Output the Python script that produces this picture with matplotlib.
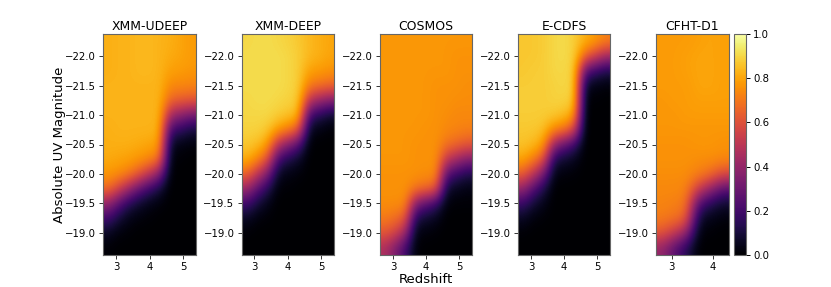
#!/usr/bin/env python3
"""
Completeness maps for five fields
"""

import numpy as np
import matplotlib
matplotlib.use("Agg")
import matplotlib.pyplot as plt

# rows run from bright to faint, columns are redshift bins (percent)
MAGS = [-22.25, -22.0, -21.75, -21.5, -21.25, -21.0, -20.75, -20.5, -20.25, -20.0, -19.75, -19.5, -19.25, -19.0, -18.75]
FIELDS = ["XMM-UDEEP", "XMM-DEEP", "COSMOS", "E-CDFS", "CFHT-D1"]

xmm_udeep = [
    [82, 83, 83, 84, 84, 83, 82, 80, 78],
    [82, 83, 83, 84, 84, 83, 81, 80, 78],
    [82, 83, 83, 84, 84, 83, 79, 78, 77],
    [83, 83, 83, 83, 83, 83, 74, 74, 73],
    [83, 83, 83, 83, 83, 83, 66, 64, 62],
    [83, 83, 83, 83, 83, 83, 44, 38, 32],
    [82, 83, 83, 83, 83, 82, 20, 16, 10],
    [82, 82, 82, 81, 80, 78, 6, 3, 2],
    [81, 80, 79, 77, 74, 68, 2, 1, 0],
    [77, 75, 71, 62, 50, 36, 1, 0, 0],
    [68, 56, 42, 28, 18, 10, 0, 0, 0],
    [40, 26, 14, 8, 4, 2, 0, 0, 0],
    [20, 10, 4, 2, 1, 0, 0, 0, 0],
    [6, 2, 1, 0, 0, 0, 0, 0, 0],
    [1, 0, 0, 0, 0, 0, 0, 0, 0],
]
xmm_deep = [
    [90, 91, 91, 90, 89, 87, 84, 82, 80],
    [91, 91, 91, 91, 90, 88, 84, 82, 80],
    [91, 91, 91, 91, 90, 88, 79, 78, 76],
    [91, 91, 91, 91, 90, 88, 71, 69, 66],
    [90, 91, 91, 90, 89, 87, 50, 42, 36],
    [90, 90, 90, 88, 86, 83, 20, 14, 8],
    [89, 89, 87, 78, 72, 62, 5, 3, 1],
    [87, 85, 78, 48, 36, 24, 1, 0, 0],
    [82, 74, 60, 20, 12, 7, 0, 0, 0],
    [66, 50, 34, 6, 3, 2, 0, 0, 0],
    [42, 26, 14, 1, 1, 0, 0, 0, 0],
    [20, 10, 4, 0, 0, 0, 0, 0, 0],
    [6, 2, 1, 0, 0, 0, 0, 0, 0],
    [1, 0, 0, 0, 0, 0, 0, 0, 0],
    [0, 0, 0, 0, 0, 0, 0, 0, 0],
]
cosmos = [
    [77, 77, 77, 77, 77, 77, 77, 77, 77],
    [77, 77, 77, 77, 77, 77, 77, 76, 76],
    [77, 77, 77, 77, 77, 77, 77, 76, 76],
    [77, 77, 77, 77, 77, 76, 76, 76, 75],
    [77, 77, 77, 77, 77, 76, 76, 75, 75],
    [77, 77, 77, 77, 77, 76, 75, 74, 74],
    [77, 77, 77, 77, 76, 76, 74, 73, 72],
    [77, 77, 77, 76, 76, 76, 69, 66, 62],
    [77, 77, 77, 76, 76, 76, 52, 44, 36],
    [76, 76, 76, 76, 75, 75, 26, 18, 12],
    [76, 76, 76, 70, 67, 62, 8, 5, 3],
    [75, 75, 74, 36, 26, 18, 2, 1, 1],
    [71, 68, 62, 12, 8, 5, 0, 0, 0],
    [62, 56, 42, 3, 2, 1, 0, 0, 0],
    [46, 34, 20, 1, 0, 0, 0, 0, 0],
]
e_cdfs = [
    [87, 87, 88, 90, 91, 88, 82, 78, 72],
    [87, 87, 88, 90, 91, 88, 66, 55, 44],
    [87, 88, 88, 90, 90, 88, 26, 18, 12],
    [88, 88, 88, 89, 90, 88, 6, 3, 2],
    [88, 88, 88, 89, 89, 87, 1, 1, 0],
    [88, 88, 88, 87, 85, 78, 0, 0, 0],
    [87, 87, 85, 74, 70, 55, 0, 0, 0],
    [86, 84, 78, 40, 28, 18, 0, 0, 0],
    [80, 72, 60, 12, 8, 5, 0, 0, 0],
    [64, 50, 32, 3, 2, 1, 0, 0, 0],
    [40, 24, 12, 0, 0, 0, 0, 0, 0],
    [18, 9, 4, 0, 0, 0, 0, 0, 0],
    [6, 2, 1, 0, 0, 0, 0, 0, 0],
    [1, 0, 0, 0, 0, 0, 0, 0, 0],
    [0, 0, 0, 0, 0, 0, 0, 0, 0],
]
cfht_d1 = [
    [78, 78, 78, 79, 80, 79],
    [78, 78, 79, 80, 80, 79],
    [78, 78, 79, 80, 80, 79],
    [78, 78, 78, 80, 80, 79],
    [77, 78, 78, 79, 79, 79],
    [77, 77, 78, 78, 78, 78],
    [77, 77, 77, 77, 77, 77],
    [76, 76, 76, 77, 77, 76],
    [76, 76, 76, 75, 75, 74],
    [75, 75, 75, 72, 68, 58],
    [74, 74, 73, 54, 40, 26],
    [73, 72, 70, 24, 14, 8],
    [71, 69, 64, 8, 4, 2],
    [62, 52, 40, 2, 1, 0],
    [40, 26, 14, 0, 0, 0],
]
TABLES = [xmm_udeep, xmm_deep, cosmos, e_cdfs, cfht_d1]
Z_RANGE = [(2.61, 5.39)] * 4 + [(2.62, 4.38)]
Z_TICKS = [[3, 4, 5]] * 4 + [[3, 4]]

W, H = 831, 287
LEFTS = [103, 241.5, 380, 518, 656]
WIDTHS = [93, 92.5, 92, 92, 73]
TOP, BOTTOM = 34, 255


def pixel_axes(fig, x0, x1):
    return fig.add_axes([x0 / W, 1 - BOTTOM / H, (x1 - x0) / W, (BOTTOM - TOP) / H])


def main():
    fig = plt.figure(figsize=(W / 100, H / 100), dpi=100)
    im = None
    for i, name in enumerate(FIELDS):
        ax = pixel_axes(fig, LEFTS[i], LEFTS[i] + WIDTHS[i])
        vals = np.array(TABLES[i], dtype=float) / 100
        z0, z1 = Z_RANGE[i]
        im = ax.imshow(vals, cmap="inferno", vmin=0, vmax=1, aspect="auto",
                       interpolation="bicubic", extent=[z0, z1, -18.62, -22.38])
        ax.set_xticks(Z_TICKS[i])
        ax.set_yticks([-22.0, -21.5, -21.0, -20.5, -20.0, -19.5, -19.0])
        ax.tick_params(labelsize=7.3, length=3, width=0.7, pad=2, color="#333333")
        ax.set_title(name, fontsize=8.9, pad=3)
        for s in ax.spines.values():
            s.set_color("#666666")
            s.set_linewidth(0.8)
        if i == 0:
            ax.set_ylabel("Absolute UV Magnitude", fontsize=9.5, labelpad=-1)
        if i == 2:
            ax.set_xlabel("Redshift", fontsize=9.6, labelpad=1)

    cax = pixel_axes(fig, 734, 746)
    cb = fig.colorbar(im, cax=cax)
    cb.set_ticks([0.0, 0.2, 0.4, 0.6, 0.8, 1.0])
    cb.ax.tick_params(labelsize=7.3, length=3, width=0.7, pad=2)
    cb.outline.set_edgecolor("#666666")
    cb.outline.set_linewidth(0.8)

    fig.savefig("out.png", dpi=100)


if __name__ == "__main__":
    main()
